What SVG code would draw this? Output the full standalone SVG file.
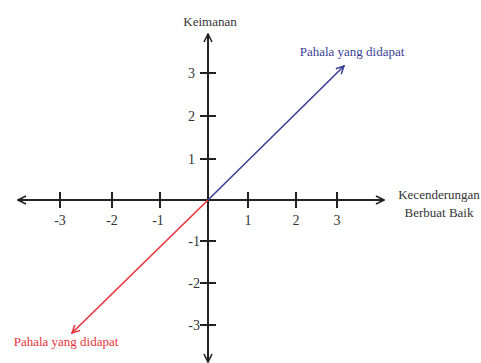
<svg xmlns="http://www.w3.org/2000/svg" width="481" height="363" viewBox="0 0 481 363">
<style>
.ax{stroke:#222;stroke-width:2;fill:none}
.tk{stroke:#222;stroke-width:2}
text{font-family:'Liberation Serif','Times New Roman',serif}
.num{font-size:14px;fill:#333}
.lbl{font-size:13px;fill:#333}
</style>
<defs>
<marker id="ah" viewBox="0 0 10 10" refX="9" refY="5" markerWidth="5" markerHeight="5" orient="auto" markerUnits="strokeWidth"><path d="M1,1 L9,5 L1,9" fill="none" stroke="#222" stroke-width="1.6"/></marker>
<marker id="ahb" viewBox="0 0 10 10" refX="9" refY="5" markerWidth="6" markerHeight="6" orient="auto" markerUnits="strokeWidth"><path d="M1,1 L9,5 L1,9" fill="none" stroke="#3a3f96" stroke-width="1.6"/></marker>
<marker id="ahr" viewBox="0 0 10 10" refX="9" refY="5" markerWidth="6" markerHeight="6" orient="auto" markerUnits="strokeWidth"><path d="M1,1 L9,5 L1,9" fill="none" stroke="#e8333a" stroke-width="1.6"/></marker>
</defs>
<rect width="481" height="363" fill="#fff"/>
<g id="axes">
<line class="ax" x1="208" y1="200" x2="208" y2="34" marker-end="url(#ah)"/>
<line class="ax" x1="208" y1="200" x2="208" y2="362" marker-end="url(#ah)"/>
<line class="ax" x1="208" y1="200" x2="384" y2="200" marker-end="url(#ah)"/>
<line class="ax" x1="208" y1="200" x2="18" y2="200" marker-end="url(#ah)"/>
<g class="tk">
<line x1="60" y1="192" x2="60" y2="208"/>
<line x1="112" y1="192" x2="112" y2="208"/>
<line x1="160" y1="192" x2="160" y2="208"/>
<line x1="248" y1="192" x2="248" y2="208"/>
<line x1="296" y1="192" x2="296" y2="208"/>
<line x1="337" y1="192" x2="337" y2="208"/>
<line x1="200" y1="73" x2="216" y2="73"/>
<line x1="200" y1="116" x2="216" y2="116"/>
<line x1="200" y1="159" x2="216" y2="159"/>
<line x1="200" y1="241" x2="216" y2="241"/>
<line x1="200" y1="283" x2="216" y2="283"/>
<line x1="200" y1="325" x2="216" y2="325"/>
</g>
<g class="num" text-anchor="middle">
<text x="60" y="225">-3</text>
<text x="112" y="225">-2</text>
<text x="158" y="225">-1</text>
<text x="248" y="225">1</text>
<text x="296" y="225">2</text>
<text x="337" y="225">3</text>
</g>
<g class="num" text-anchor="end">
<text x="195" y="78">3</text>
<text x="195" y="121">2</text>
<text x="195" y="164">1</text>
<text x="200" y="246">-1</text>
<text x="200" y="288">-2</text>
<text x="200" y="330">-3</text>
</g>
</g>
<g id="y-label"><text class="lbl" x="210" y="26" text-anchor="middle">Keimanan</text></g>
<g id="x-label"><text class="lbl" x="439" y="199" text-anchor="middle">Kecenderungan</text><text class="lbl" x="439" y="217" text-anchor="middle">Berbuat Baik</text></g>
<g id="connectors">
<line x1="208" y1="200" x2="344" y2="66" stroke="#3a3f96" stroke-width="1.6" marker-end="url(#ahb)"/>
<line x1="208" y1="200" x2="72" y2="333" stroke="#e8333a" stroke-width="1.6" marker-end="url(#ahr)"/>
</g>
<g id="blue-label"><text class="lbl" x="352" y="56" text-anchor="middle" style="fill:#3a3f96">Pahala yang didapat</text></g>
<g id="red-label"><text class="lbl" x="66" y="346" text-anchor="middle" style="fill:#e8333a">Pahala yang didapat</text></g>
</svg>
